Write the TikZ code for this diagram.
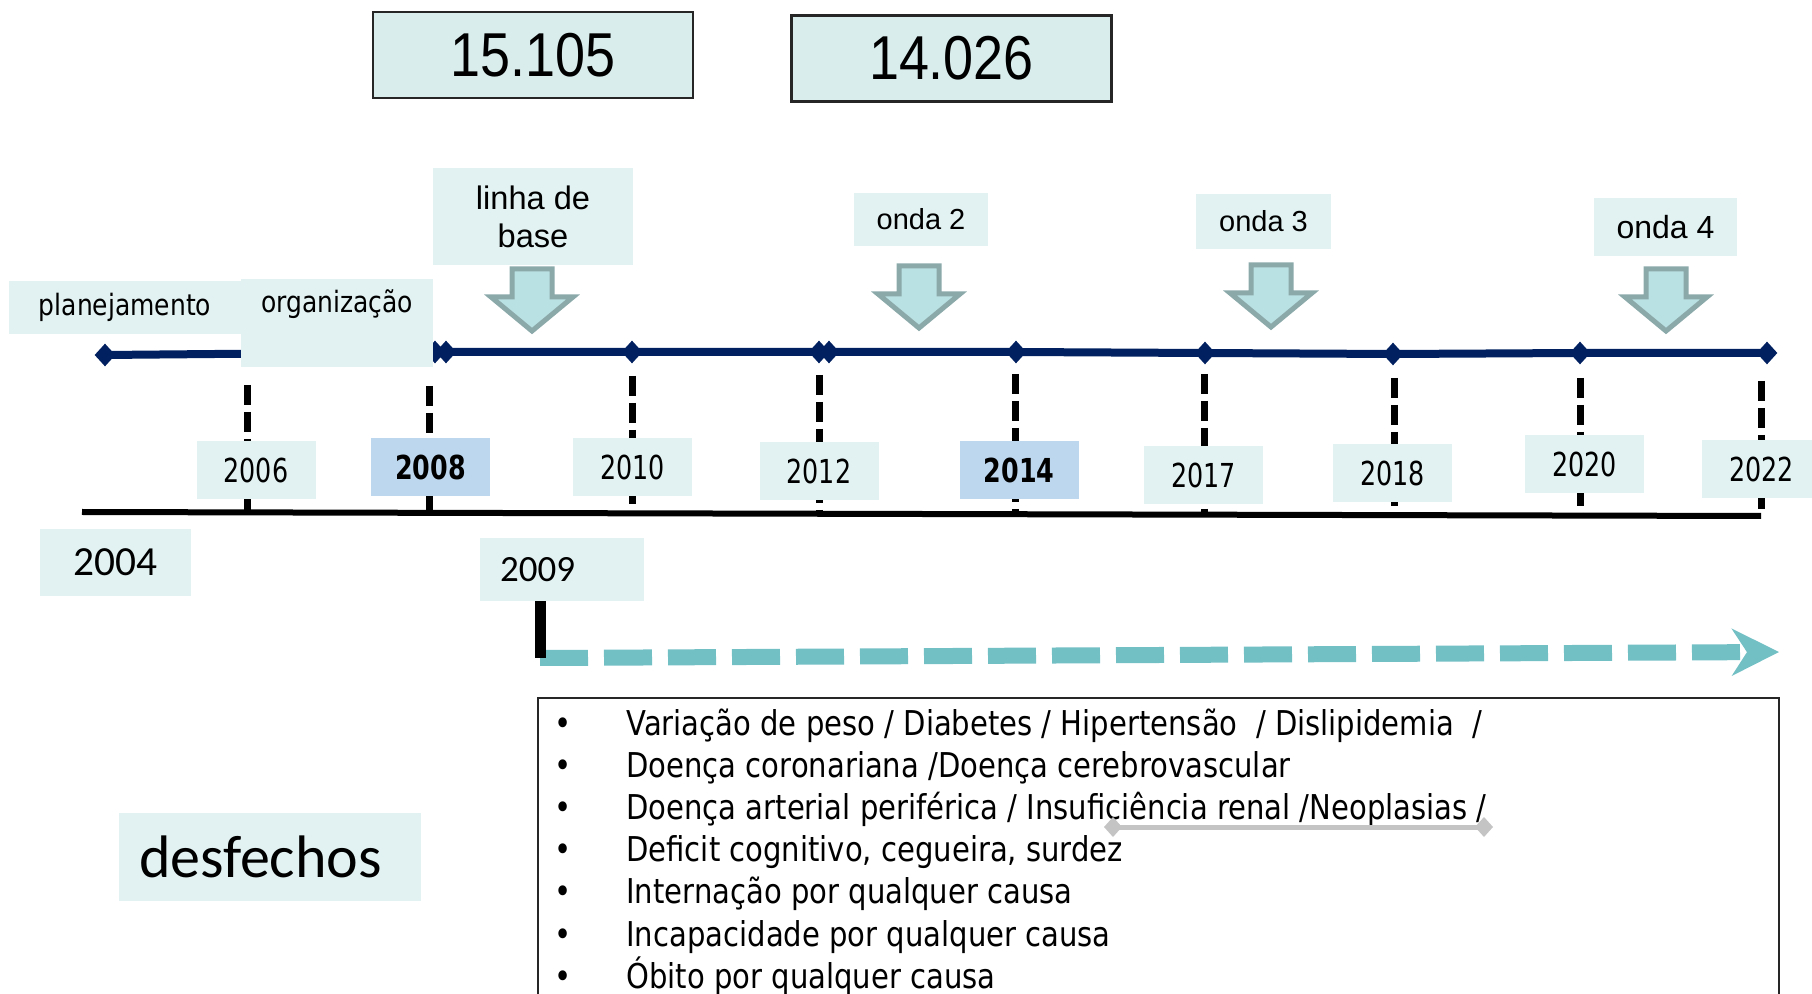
\documentclass[tikz,border=0pt]{standalone}
\usepackage{fontspec}
\usepackage{xcolor}
\usepackage{tikz}
\usetikzlibrary{arrows.meta,backgrounds,calc,positioning,shapes.geometric}
\newfontfamily\estreita[FakeStretch=0.85]{DejaVu Sans}
\newfontfamily\estreitaano[FakeStretch=0.77]{DejaVu Sans}
\newfontfamily\arial{Liberation Sans}
\newfontfamily\arialnum[FakeStretch=0.87]{Liberation Sans}
\newfontfamily\calibri{Carlito}
\definecolor{caixa}{HTML}{E2F2F2}
\definecolor{caixanum}{HTML}{DAEDED}
\definecolor{azulano}{HTML}{BDD7EE}
\definecolor{marinho}{HTML}{002060}
\definecolor{setafundo}{HTML}{B9E0E2}
\definecolor{setaborda}{HTML}{8CA9AA}
\definecolor{turquesa}{HTML}{72BFC4}
\definecolor{cinza}{HTML}{C4C4C4}

\tikzset{
  rotulo/.style={fill=caixa, inner sep=0pt, align=center},
  ano/.style={rotulo, minimum width=59.5pt, minimum height=29pt, font=\estreitaano\fontsize{16.5}{19}\selectfont},
  anoazul/.style={ano, fill=azulano, font=\estreitaano\bfseries\fontsize{16.5}{19}\selectfont},
  numero/.style={fill=caixanum, draw=black!85, line width=1.3pt, minimum width=160pt, minimum height=43pt, font=\arialnum\fontsize{31}{34}\selectfont},
  marco/.style={diamond, fill=marinho, inner sep=0pt, minimum width=10.5pt, minimum height=11.5pt},
  seta/.style={fill=setafundo, draw=setaborda, line width=2.5pt, line join=miter},
  tracejado/.style={line width=3.5pt, dash pattern=on 10pt off 3.5pt},
  linha/.style={inner sep=0pt, font=\estreita\fontsize{17.1}{20}\selectfont}
}

\begin{document}
\begin{tikzpicture}[x=0.5pt,y=-0.5pt]
\useasboundingbox (0,0) rectangle (1812,994);
\pgfmathsetmacro{\entrelinha}{42.2}

\node[numero] (n1) at (533,55) {15.105};
\node[numero] (n2) at (951.5,58.5) {14.026};

\foreach \n/\x/\y in {0/105/355,1/435/352,2/446/352,3/632/352,4/819/352,5/829/352,6/1016/352,7/1205/353,8/1393/354,9/1580/353,10/1767/353}
  \node[marco] (m\n) at (\x,\y) {};

\node[rotulo, minimum width=116pt, minimum height=26.5pt, font=\estreita\fontsize{14.7}{17}\selectfont] (plan) at (125,307.5) {planejamento};
\node[rotulo, minimum width=96pt, text height=17pt, text depth=27pt, anchor=base, font=\estreita\fontsize{14.7}{17}\selectfont] (org) at (337,313) {organização};
\node[rotulo, minimum width=100pt, minimum height=48.5pt, font=\arial\fontsize{16.3}{19}\selectfont] (lb) at (533,216.5) {linha de\\base};
\node[rotulo, minimum width=67pt, minimum height=26.5pt, font=\arial\fontsize{14.5}{17}\selectfont] (o2) at (921,219.5) {onda 2};
\node[rotulo, minimum width=67.5pt, minimum height=27.5pt, font=\arial\fontsize{14.5}{17}\selectfont] (o3) at (1263.5,221.5) {onda 3};
\node[rotulo, minimum width=71.5pt, minimum height=29pt, font=\arial\fontsize{16}{19}\selectfont] (o4) at (1665.5,227) {onda 4};

\foreach \cx/\ty in {532/266,919/263,1271/262,1666/266}
  \draw[seta] (\cx-20,\ty+3) -- (\cx+20,\ty+3) -- (\cx+20,\ty+31) -- (\cx+41,\ty+31) -- (\cx,\ty+65) -- (\cx-41,\ty+31) -- (\cx-20,\ty+31) -- cycle;

\foreach \a/\x/\y in {2006/256/470,2010/632.5/467,2012/819/471.5,2017/1203.5/475,2018/1392.5/473,2020/1584.5/464.5,2022/1761.5/469}
  \node[ano] (a\a) at (\x,\y) {\a};
\node[anoazul] (a2008) at (430.5,467.5) {2008};
\node[anoazul] (a2014) at (1019,470) {2014};

\node[rotulo, minimum width=75.5pt, minimum height=33.5pt, font=\calibri\fontsize{20.7}{24}\selectfont] (a2004) at (115.5,562.5) {2004};
\node[rotulo, text width=62pt, inner xsep=10pt, align=left, minimum height=31.5pt, font=\calibri\fontsize{18.5}{22}\selectfont] (a2009) at (562,569.5) {2009};
\node[rotulo, text width=131pt, inner xsep=10pt, align=left, minimum height=44pt, font=\calibri\fontsize{30}{34}\selectfont] (desf) at (270,857) {desfechos};

\node[draw=black!85, line width=1pt, minimum width=620.5pt, minimum height=160pt, inner sep=0pt] (lista) at (1158.5,858) {};
\foreach \t [count=\i from 0] in {Variação de peso / Diabetes / Hipertensão~ / Dislipidemia~ /,
    Doença coronariana /Doença cerebrovascular,
    Doença arterial periférica / Insuficiência renal /Neoplasias /,
    {Deficit cognitivo, cegueira, surdez},
    Internação por qualquer causa,
    Incapacidade por qualquer causa,
    Óbito por qualquer causa} {
  \node[linha, anchor=base] (p\i) at (563,{735+\entrelinha*\i}) {•};
  \node[linha, anchor=base west] (l\i) at (626,{735+\entrelinha*\i}) {\t};
}

\coordinate (g0) at (1104,827);
\coordinate (g1) at (1493,827);
\draw[cinza, line width=2.5pt, {Diamond[length=9pt,width=10pt]}-{Diamond[length=9pt,width=10pt]}] (g0) -- (g1);

\coordinate (f0) at (540,658);
\coordinate (f1) at (1779,652);
\draw[turquesa, line width=8pt, dash pattern=on 24pt off 8pt, -{Stealth[length=23.5pt,width=23.5pt,inset=7.5pt]}] (f0) -- (f1);
\draw[line width=5.5pt] (a2009.south -| f0) -- (f0);

\begin{scope}[on background layer]
\coordinate (b0) at (82,512);
\coordinate (b1) at (1761,516);
\draw[line width=3pt] (b0) -- (b1);
\foreach \x/\t [count=\i] in {247/385,429/386,632/376,819/375,1015/374,1204/374,1394/378,1580/378,1761/381} {
  \coordinate (v\i) at (\x,\t);
  \coordinate (w\i) at (\x,514);
  \draw[tracejado] (v\i) -- (w\i);
}
\draw[marinho, line width=4pt] (m0.center) \foreach \n in {1,...,10} { -- (m\n.center) };
\end{scope}
\end{tikzpicture}
\end{document}
